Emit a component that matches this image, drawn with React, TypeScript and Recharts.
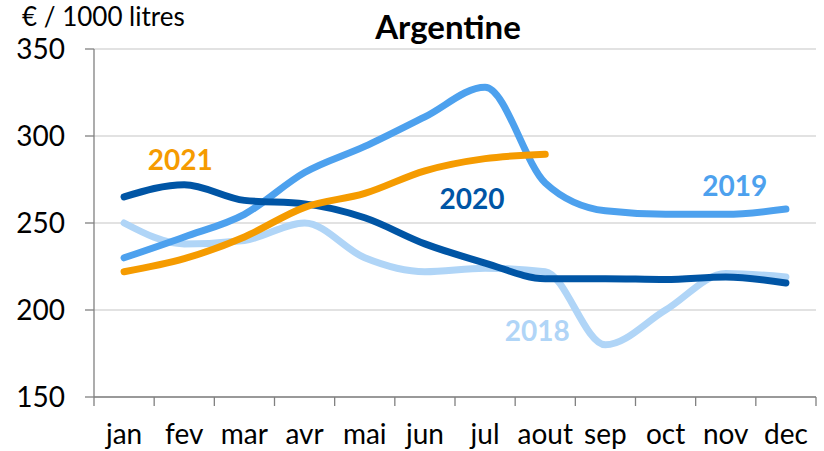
import React from 'react';
import { LineChart, Line, XAxis, YAxis, CartesianGrid, ReferenceDot } from 'recharts';

const months = ['jan', 'fev', 'mar', 'avr', 'mai', 'jun', 'jul', 'aout', 'sep', 'oct', 'nov', 'dec'];
const y2018 = [250, 238, 240, 250, 230, 222, 224, 222, 180, 200, 221, 219];
const y2019 = [230, 242, 255, 279, 294, 311, 328, 273, 257, 255, 255, 258];
const y2020 = [265, 272, 263, 261, 253, 238, 227, 218, 218, 217.5, 219, 215.5];
const y2021 = [222, 229.5, 242, 259, 267, 280, 287, 289.5, null, null, null, null];
const yTicks = [150, 200, 250, 300, 350];

const data = months.map((m, i) => ({
  month: m,
  s2018: y2018[i],
  s2019: y2019[i],
  s2020: y2020[i],
  s2021: y2021[i],
}));

const W = 824;
const H = 451;
const M = { top: 49, right: 8, bottom: 0, left: 0 };
const Y_W = 94;
const X_H = 54;
const STEP = (W - M.right - Y_W) / months.length;
const FONT = 'Lato, "Noto Sans", sans-serif';
const X_MARGIN = 27;

const C2018 = '#B0D5F7';
const C2019 = '#4DA1EE';
const C2020 = '#0055A5';
const C2021 = '#F59B00';

const MonthTick = (props: any) => {
  const { x, y, payload, index } = props;
  const axisY = y - X_MARGIN;
  return (
    <g>
      <line x1={x - STEP / 2} x2={x - STEP / 2} y1={axisY} y2={axisY + 9} stroke="#808080" strokeWidth={1.3} />
      {index === months.length - 1 && (
        <line x1={x + STEP / 2} x2={x + STEP / 2} y1={axisY} y2={axisY + 9} stroke="#808080" strokeWidth={1.3} />
      )}
      <text x={x} y={y} dy="0.71em" textAnchor="middle" fill="#000" fontSize={28} fontFamily={FONT}>
        {payload.value}
      </text>
    </g>
  );
};

const labelStyle = (color: string, dx: number) => ({
  position: 'center' as const,
  fill: color,
  fontSize: 28,
  fontWeight: 700,
  fontFamily: FONT,
  dx,
});

export default function App() {
  return (
    <div style={{ position: 'absolute', left: 0, top: 0, width: W, height: H, background: '#fff' }}>
      <div style={{ position: 'absolute', left: 22, top: 1, fontFamily: FONT, fontSize: 26, lineHeight: '30px', color: '#000', whiteSpace: 'nowrap' }}>
        € / 1000 litres
      </div>
      <div style={{ position: 'absolute', left: 0, width: 896, top: 6, textAlign: 'center', fontFamily: FONT, fontSize: 33, lineHeight: '40px', fontWeight: 700, color: '#000' }}>
        Argentine
      </div>
      <LineChart width={W} height={H} data={data} margin={M}>
        <CartesianGrid vertical={false} stroke="#D9D9D9" strokeWidth={1.3} />
        <XAxis
          dataKey="month"
          scale="band"
          tickLine={false}
          tickSize={0}
          tickMargin={X_MARGIN}
          interval={0}
          axisLine={{ stroke: '#808080', strokeWidth: 1.3 }}
          tick={<MonthTick />}
          height={X_H}
        />
        <YAxis
          domain={[150, 350]}
          ticks={yTicks}
          width={Y_W}
          tickSize={9}
          tickMargin={20}
          axisLine={{ stroke: '#808080', strokeWidth: 1.3 }}
          tickLine={{ stroke: '#808080', strokeWidth: 1.3 }}
          tick={{ fill: '#000', fontSize: 28, fontFamily: FONT }}
          interval={0}
        />
        <Line type="monotone" dataKey="s2018" stroke={C2018} strokeWidth={7} dot={false} strokeLinecap="round" isAnimationActive={false} />
        <Line type="monotone" dataKey="s2019" stroke={C2019} strokeWidth={7} dot={false} strokeLinecap="round" isAnimationActive={false} />
        <Line type="monotone" dataKey="s2020" stroke={C2020} strokeWidth={7} dot={false} strokeLinecap="round" isAnimationActive={false} />
        <Line type="monotone" dataKey="s2021" stroke={C2021} strokeWidth={7} dot={false} strokeLinecap="round" isAnimationActive={false} />
        <ReferenceDot x="fev" y={286} r={0} stroke="none" label={{ value: '2021', ...labelStyle(C2021, -4) }} />
        <ReferenceDot x="jul" y={264} r={0} stroke="none" label={{ value: '2020', ...labelStyle(C2020, -13) }} />
        <ReferenceDot x="nov" y={271} r={0} stroke="none" label={{ value: '2019', ...labelStyle(C2019, 9) }} />
        <ReferenceDot x="aout" y={188} r={0} stroke="none" label={{ value: '2018', ...labelStyle(C2018, -8) }} />
      </LineChart>
    </div>
  );
}
